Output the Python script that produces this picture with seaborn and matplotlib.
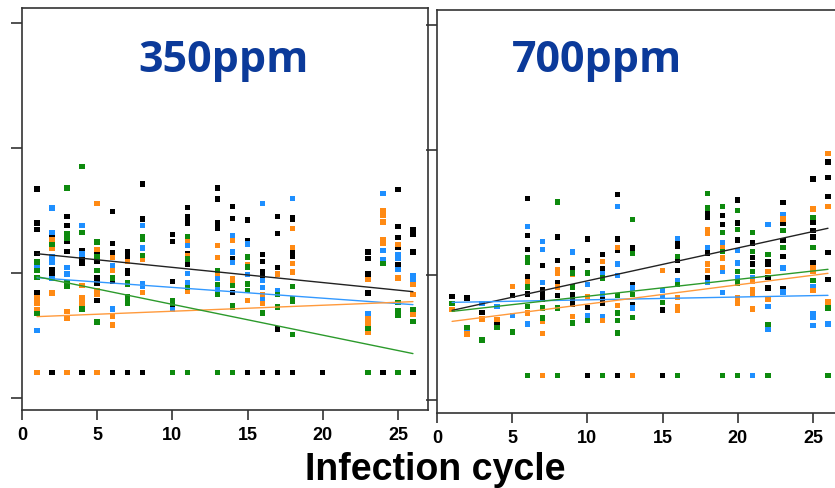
import seaborn as sns
import matplotlib.pyplot as plt
import pandas as pd

ppm350_black = {1: [166.9, 139.7, 134.4, 115.2, 84.3], 2: [129.6, 102.4, 99.7, 97.9, 20],
                3: [144.8, 137.6, 125.1, 117.1], 4: [117.6, 111.7, 107.7, 20],
                5: [117.1, 109.1, 95.7, 91.7, 77.9], 6: [149.1, 123.5, 115.7, 93.1, 20],
                7: [117.1, 114.4, 111.7, 101.9, 99.2, 20], 8: [170.9, 142.9, 20],
                10: [130.4, 125.1, 93.1, 73.1], 11: [152.3, 145.1, 142.4, 139.7, 115.2, 106.4],
                13: [167.7, 158.9, 139.7, 135.7], 14: [153.1, 143.2, 111.2, 84.3],
                15: [142.1, 125.9, 20], 16: [114.4, 109.1, 101.1, 97.1, 20],
                17: [144.8, 131.2, 104.3, 54.9, 20], 18: [144.3, 142.4, 116.3, 113.1, 20],
                20: [20], 23: [116.5, 111.2, 98.9, 97.1, 83.7], 24: [20],
                25: [166.4, 137.1, 128.3, 120.3, 106.4], 26: [134.4, 130.4, 116.5, 20]}
ppm350_blue = {1: [105.1, 53.9], 2: [151.7, 132.3, 112.5, 108.3, 95.2], 3: [129.1, 104.3, 98.9],
               4: [137.6, 114.9], 6: [105.6, 70.9], 8: [137.6, 119.7, 90.9, 88.8], 10: [70.4],
               11: [121.6, 99.2, 92.3], 13: [95.7, 86.9], 14: [129.9, 116.5, 108.3],
               15: [122.9, 98.4], 16: [155.5, 93.6, 88.3, 78.9], 17: [85.6], 18: [159.5],
               23: [66.9], 24: [163.2, 117.6, 110.4], 25: [114.4, 111.7, 102.4], 26: [97.9, 94.4]}
ppm350_orange = {1: [79.7, 75.2, 70.4, 20], 2: [126.4, 119.2, 83.7], 3: [69.1, 63.7, 20],
                 4: [89.9, 80.3, 76.3, 73.1], 5: [155.5, 118.4, 85.6, 82.4, 20],
                 6: [112.3, 101.6, 65.1, 58.1], 7: [109.1], 8: [110.4, 84.3], 11: [125.6, 113.6, 85.1],
                 13: [121.9, 112.3, 99.2], 14: [125.6, 95.2, 93.1], 15: [106.4, 77.9],
                 16: [82.4, 75.2], 17: [98.9], 18: [135.5, 120.3, 107.2, 100.5],
                 23: [94.4, 63.2, 59.7, 52.5], 24: [149.6, 145.6, 140.5, 126.4, 123.7],
                 25: [122.4, 95.7], 26: [90.4, 82.4, 66.9]}
ppm350_green = {1: [108.5, 101.6, 96.3, 67.5], 2: [122.4], 3: [167.7, 131.2, 127.7, 91.7, 89.1],
                4: [185.1, 132.3, 70.9], 5: [124.5, 112.5, 101.6, 60.5], 6: [95.7],
                7: [91.7, 90.4, 81.1, 78.4, 75.2], 8: [129.1, 126.4, 113.6],
                10: [77.9, 75.7, 20], 11: [129.1, 110.9, 88.3, 20], 13: [101.9, 90.4, 82.4, 20],
                14: [89.6, 73.9, 72.3, 20], 15: [112.5, 104.5, 90.9, 85.6], 16: [67.7],
                17: [82.4, 72.5], 18: [89.1, 79.2, 77.1, 50.4], 23: [55.2, 20], 24: [107.2],
                25: [75.9, 69.7, 65.7, 20], 26: [70.4, 61.1]}

ppm700_black = {1: [82.9], 2: [81.9], 3: [70.4], 4: [61.3, 59.7], 5: [84.0],
                6: [161.3, 132.0, 120.5, 99.2, 85.1], 7: [108.0, 88.5, 84.5, 80.5],
                8: [130.7, 112.0, 94.4, 84.0], 9: [105.1, 84.5, 80.5, 76.5],
                10: [129.1, 112.0, 74.4, 20], 11: [116.5, 105.1, 81.9, 77.9],
                12: [164.5, 129.1, 119.7, 20], 13: [121.9, 92.5, 76.5], 15: [72.3, 20],
                16: [125.9, 123.2, 112.0, 104.0], 18: [149.9, 146.4, 117.9, 98.4],
                19: [147.7, 140.5], 20: [160.3, 141.9, 128.3], 21: [125.9, 114.4, 109.1],
                22: [110.7, 108.5, 98.4, 89.9], 23: [158.4, 141.3, 127.7, 115.2, 89.1],
                25: [177.1, 142.4, 135.7, 130.7, 110.4], 26: [190.7, 178.4, 162.9, 118.4, 96.5]}
ppm700_blue = {2: [55.7], 3: [77.3], 4: [75.2], 5: [68.0], 6: [139.2, 61.0],
               7: [127.2, 120.5, 94.4], 9: [118.7], 10: [92.5, 67.7], 11: [101.3, 85.1, 67.2],
               12: [155.2, 109.1, 99.7], 13: [89.9, 73.9], 15: [88.0, 83.2], 16: [129.3, 95.7],
               18: [122.4, 94.4], 19: [126.4, 103.2, 86.4], 20: [119.7, 109.9, 97.9],
               21: [97.9, 20], 22: [140.5, 75.2, 56.5], 23: [148.5, 105.9, 86.7],
               25: [91.2, 69.1, 66.4, 60.0], 26: [61.1]}
ppm700_orange = {1: [72.5], 2: [53.1], 3: [65.1], 4: [64.5], 5: [91.2], 6: [95.2, 69.9],
                 7: [63.2, 53.3, 20], 8: [104.5, 101.9, 90.7], 9: [100.5, 67.2], 10: [83.2],
                 11: [111.2, 64.0], 12: [122.4, 75.7], 13: [20], 15: [104.0],
                 16: [82.4, 74.7, 72.0], 18: [136.5, 133.9, 109.1, 104.0],
                 19: [121.9, 113.9, 106.4], 20: [81.9, 77.9], 21: [95.2, 88.5, 85.1, 73.1],
                 22: [103.2, 80.5], 23: [145.1], 25: [153.1, 106.4, 103.2, 87.7],
                 26: [197.1, 155.2, 78.7]}
ppm700_green = {1: [77.6], 2: [58.4], 3: [48.3], 4: [58.4], 5: [54.7],
                6: [113.9, 110.7, 90.7, 74.9, 20], 7: [73.9, 65.9], 8: [158.7, 73.9, 20],
                9: [101.9, 90.7, 61.9], 10: [101.9, 63.7], 11: [97.9, 20],
                12: [84.0, 69.9, 64.0, 53.9], 13: [144.5, 117.3, 84.5, 66.4], 15: [78.4],
                16: [115.2, 92.5, 20], 18: [165.6, 153.9], 19: [155.2, 134.4, 119.2, 20],
                20: [152.0, 136.5, 103.2, 93.9, 20], 21: [134.4, 119.2, 103.2],
                22: [116.5, 60.5, 20], 23: [135.7, 122.4], 25: [146.4, 122.4, 95.7],
                26: [73.9, 20]}

# fitted trend lines: value at cycle 1 and at cycle 26
trend_cycles = [1, 26]
trend350 = {'black': [115.2, 84.8], 'blue': [96.0, 74.4], 'orange': [64.8, 76.8], 'green': [96.8, 35.2]}
trend700 = {'black': [72.0, 137.6], 'blue': [78.4, 84.0], 'orange': [63.2, 101.6], 'green': [71.2, 104.8]}

colors = {'black': '#000000', 'blue': '#1e8fff', 'orange': '#ff8a14', 'green': '#0e8a0e'}
line_colors = {'black': '#222222', 'blue': '#3399ff', 'orange': '#ff9a3c', 'green': '#2c9a2c'}


def to_frame(series):
    rows = []
    for name, d in series.items():
        for cyc, vals in d.items():
            for v in vals:
                rows.append((cyc, v, name))
    return pd.DataFrame(rows, columns=['cycle', 'value', 'series'])


def trend_frame(trend):
    rows = []
    for name, ends in trend.items():
        for cyc, v in zip(trend_cycles, ends):
            rows.append((cyc, v, name))
    return pd.DataFrame(rows, columns=['cycle', 'value', 'series'])


df350 = to_frame({'black': ppm350_black, 'blue': ppm350_blue, 'orange': ppm350_orange, 'green': ppm350_green})
df700 = to_frame({'black': ppm700_black, 'blue': ppm700_blue, 'orange': ppm700_orange, 'green': ppm700_green})

sns.set_style('ticks')
plt.rcParams['font.family'] = ['Liberation Sans', 'DejaVu Sans']
plt.rcParams['text.color'] = 'black'

fig = plt.figure(figsize=(8.35, 4.88), dpi=100)
ax1 = fig.add_axes([0.02635, 0.1598, 0.4862, 0.8238])
ax2 = fig.add_axes([0.5234, 0.1537, 0.4862, 0.8258])

for ax, df, trend, title, tx, ty in [(ax1, df350, trend350, '350ppm', 0.4975, 0.841),
                                      (ax2, df700, trend700, '700ppm', 0.394, 0.846)]:
    sns.scatterplot(data=df, x='cycle', y='value', hue='series', palette=colors,
                    marker='s', s=15, linewidth=0, legend=False, ax=ax, zorder=2)
    sns.lineplot(data=trend_frame(trend), x='cycle', y='value', hue='series',
                 palette=line_colors, linewidth=1.0, legend=False, ax=ax, zorder=3)
    ax.set_xlim(0, 27.0)
    ax.set_ylim(-10, 312)
    ax.set_xticks([0, 5, 10, 15, 20, 25])
    ax.set_yticks([0, 100, 200, 300])
    ax.set_yticklabels([])
    ax.set_xlabel('')
    ax.set_ylabel('')
    ax.tick_params(axis='x', direction='out', bottom=True, length=7, width=1.2, pad=5,
                   labelsize=13, color='#333333', labelcolor='black')
    ax.tick_params(axis='y', direction='out', left=True, length=8, width=1.2, color='#333333')
    for lab in ax.get_xticklabels():
        lab.set_fontweight('bold')
    for sp in ax.spines.values():
        sp.set_visible(True)
        sp.set_color('#333333')
        sp.set_linewidth(1.2)
    ax.text(tx, ty, title, transform=ax.transAxes, ha='center', va='baseline',
            fontsize=31, fontweight='bold', color='#0b3a9a', family=['Open Sans', 'DejaVu Sans'])

fig.text(435 / 835, 1 - 480 / 488, 'Infection cycle', ha='center', va='baseline',
         fontsize=27, fontweight='bold', color='black')

fig.savefig('out.png', dpi=100)
